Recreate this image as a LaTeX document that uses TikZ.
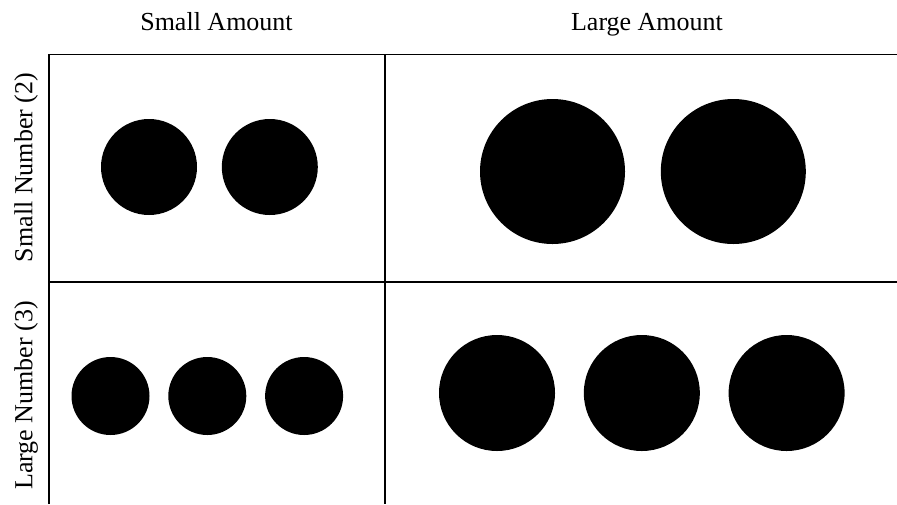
\documentclass[tikz,border=0pt]{standalone}
\usepackage{fontspec}
\setmainfont{Liberation Serif}
\usetikzlibrary{positioning}

\begin{document}
\begin{tikzpicture}[
  x=0.5pt, y=-0.5pt,
  node distance=12pt,
  grid/.style={line width=0.75pt, black},
  dot/.style={circle, fill=black, inner sep=0pt, minimum size=#1},
  head/.style={font=\fontsize{13}{15}\selectfont, inner sep=0pt, anchor=base},
  side/.style={head, rotate=90}
]
\useasboundingbox (0,0) rectangle (897,504);

% column and row headings
\node[head] (smallamt) at (216.5,30.5) {Small Amount};
\node[head] (largeamt) at (647,30.5) {Large Amount};
\node[side] (smallnum) at (32.5,167.5) {Small Number (2)};
\node[side] (largenum) at (32.5,395.5) {Large Number (3)};

% grid
\draw[grid] (49,504) |- (897,54.5);
\draw[grid] (49,282) -- (897,282);
\draw[grid] (385,54.5) -- (385,504);

% small number, small amount
\node[dot=48pt] (sa1) at (149,167) {};
\node[dot=48pt, right=12pt of sa1] (sa2) {};

% small number, large amount
\node[dot=72.5pt] (sb1) at (552.5,171.5) {};
\node[dot=72.5pt, right=17.5pt of sb1] (sb2) {};

% large number, small amount
\node[dot=39pt] (la1) at (110.5,396) {};
\node[dot=39pt, right=9pt of la1] (la2) {};
\node[dot=39pt, right=9pt of la2] (la3) {};

% large number, large amount
\node[dot=58pt] (lb1) at (497,393) {};
\node[dot=58pt, right=14pt of lb1] (lb2) {};
\node[dot=58pt, right=14pt of lb2] (lb3) {};
\end{tikzpicture}
\end{document}
